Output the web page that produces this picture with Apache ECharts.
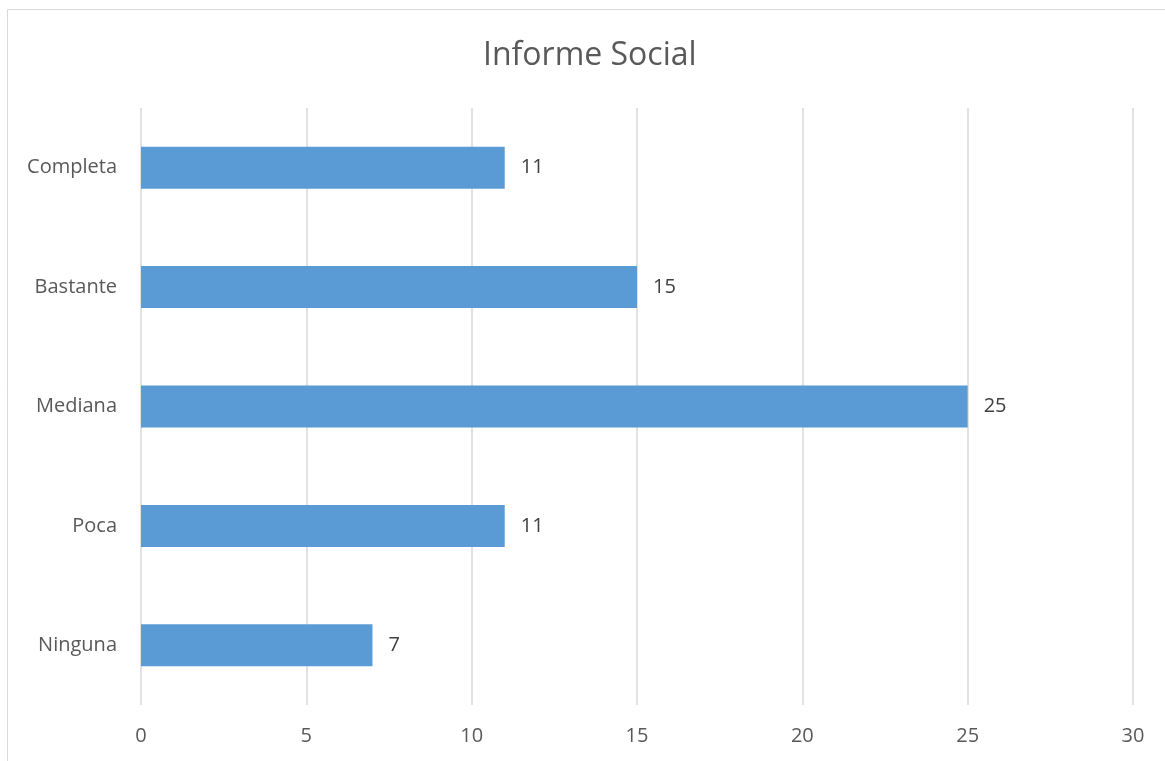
<!DOCTYPE html>
<html>
<head>
<meta charset="utf-8">
<script src="https://cdn.jsdelivr.net/npm/echarts@6/dist/echarts.min.js"></script>
<style>html,body{margin:0;padding:0;background:#fff;}#c{width:1165px;height:761px;}</style>
</head>
<body>
<div id="c"></div>
<script>
var categories = ['Completa', 'Bastante', 'Mediana', 'Poca', 'Ninguna'];
var values = [11, 15, 25, 11, 7];
var xTicks = [0, 5, 10, 15, 20, 25, 30];
var titleText = 'Informe Social';

var chart = echarts.init(document.getElementById('c'), null, {renderer: 'canvas'});
var font = '"Open Sans", "Liberation Sans", sans-serif';
chart.setOption({
  animation: false,
  backgroundColor: '#ffffff',
  graphic: [{
    type: 'rect',
    shape: {x: 7.5, y: 9.5, width: 1200, height: 800},
    style: {fill: 'none', stroke: '#d9d9d9', lineWidth: 1}
  }],
  title: {
    text: titleText,
    left: 478,
    top: 35,
    textStyle: {fontFamily: font, fontSize: 32, fontWeight: 'normal', color: '#595959'}
  },
  grid: {left: 141, right: 32, top: 108, bottom: 56, containLabel: false},
  xAxis: {
    type: 'value',
    min: xTicks[0],
    max: xTicks[xTicks.length - 1],
    interval: 5,
    axisLine: {show: false},
    axisTick: {show: false},
    axisLabel: {fontFamily: font, fontSize: 20, color: '#595959', margin: 21},
    splitLine: {show: true, lineStyle: {color: '#d9d9d9', width: 1.5}}
  },
  yAxis: {
    type: 'category',
    inverse: true,
    data: categories,
    axisLine: {show: false},
    axisTick: {show: false},
    axisLabel: {fontFamily: font, fontSize: 20, color: '#595959', margin: 24, padding: [2, 0, 0, 0]},
    splitLine: {show: false}
  },
  series: [{
    type: 'bar',
    data: values,
    barWidth: '35.2%',
    itemStyle: {color: '#5b9bd5'},
    label: {
      show: true,
      position: 'right',
      distance: 16,
      padding: [2, 0, 0, 0],
      fontFamily: font,
      fontSize: 20,
      color: '#404040'
    }
  }]
});
</script>
</body>
</html>
